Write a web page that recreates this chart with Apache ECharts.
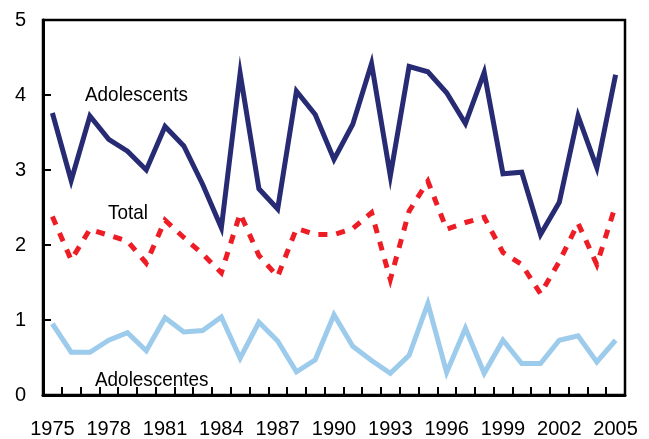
<!DOCTYPE html>
<html>
<head>
<meta charset="utf-8">
<script src="https://cdn.jsdelivr.net/npm/echarts@6/dist/echarts.min.js"></script>
<style>
html,body{margin:0;padding:0;background:#fff;}
#c{width:649px;height:439px;}
</style>
</head>
<body>
<div id="c"></div>
<script>
var years = ['1975','1976','1977','1978','1979','1980','1981','1982','1983','1984','1985','1986','1987','1988','1989',
  '1990','1991','1992','1993','1994','1995','1996','1997','1998','1999','2000','2001','2002','2003','2004','2005'];

var adolescents = [3.76, 2.86, 3.72, 3.41, 3.25, 3.00, 3.58, 3.32, 2.81, 2.23, 4.29, 2.75, 2.48, 4.05, 3.74,
  3.14, 3.61, 4.42, 2.92, 4.38, 4.31, 4.03, 3.62, 4.30, 2.95, 2.97, 2.14, 2.57, 3.72, 3.03, 4.27];
var total = [2.38, 1.80, 2.21, 2.13, 2.05, 1.76, 2.33, 2.10, 1.88, 1.63, 2.42, 1.86, 1.58, 2.22, 2.14,
  2.14, 2.22, 2.43, 1.54, 2.45, 2.85, 2.21, 2.30, 2.37, 1.90, 1.74, 1.35, 1.78, 2.29, 1.74, 2.53];
var adolescentes = [0.95, 0.57, 0.57, 0.73, 0.83, 0.59, 1.03, 0.84, 0.86, 1.04, 0.49, 0.97, 0.72, 0.31, 0.47,
  1.07, 0.65, 0.46, 0.29, 0.53, 1.22, 0.30, 0.89, 0.29, 0.73, 0.42, 0.42, 0.73, 0.79, 0.44, 0.73];

var FONT = '"Liberation Sans Narrow", "Liberation Sans", Arial, sans-serif';

var chart = echarts.init(document.getElementById('c'), null, {renderer: 'canvas'});
chart.setOption({
  animation: false,
  backgroundColor: '#fff',
  grid: {left: 43, right: 24, top: 20, bottom: 42, show: true, borderColor: '#000', borderWidth: 2.5, containLabel: false},
  xAxis: {
    type: 'category',
    data: years,
    boundaryGap: true,
    axisLine: {show: true, lineStyle: {color: '#000', width: 3}},
    axisTick: {show: true, inside: true, length: 8, interval: 0, lineStyle: {color: '#000', width: 2}},
    axisLabel: {interval: 2, color: '#000', fontSize: 20, fontFamily: FONT, margin: 24},
    splitLine: {show: false}
  },
  yAxis: {
    type: 'value',
    min: 0, max: 5, interval: 1,
    axisLine: {show: true, lineStyle: {color: '#000', width: 3}},
    axisTick: {show: true, inside: true, length: 8, lineStyle: {color: '#000', width: 2}},
    axisLabel: {color: '#000', fontSize: 20, fontFamily: FONT, margin: 17},
    splitLine: {show: false}
  },
  series: [
    {name: 'Total', type: 'line', data: total, symbol: 'none', z: 2,
     lineStyle: {color: '#EE1C25', width: 5, type: [9, 9], join: 'miter'}},
    {name: 'Adolescentes', type: 'line', data: adolescentes, symbol: 'none', z: 3,
     lineStyle: {color: '#9DCBEC', width: 5, join: 'miter'}},
    {name: 'Adolescents', type: 'line', data: adolescents, symbol: 'none', z: 4,
     lineStyle: {color: '#272B74', width: 5, join: 'miter'}}
  ],
  graphic: [
    {type: 'text', x: 85, y: 95, scaleX: 0.9, z: 10,
     style: {text: 'Adolescents', fill: '#000', font: '21px ' + FONT, textAlign: 'left', textVerticalAlign: 'middle'}},
    {type: 'text', x: 108, y: 213, scaleX: 0.9, z: 10,
     style: {text: 'Total', fill: '#000', font: '21px ' + FONT, textAlign: 'left', textVerticalAlign: 'middle'}},
    {type: 'text', x: 95, y: 380, scaleX: 0.9, z: 10,
     style: {text: 'Adolescentes', fill: '#000', font: '21px ' + FONT, textAlign: 'left', textVerticalAlign: 'middle'}}
  ]
});
</script>
</body>
</html>
